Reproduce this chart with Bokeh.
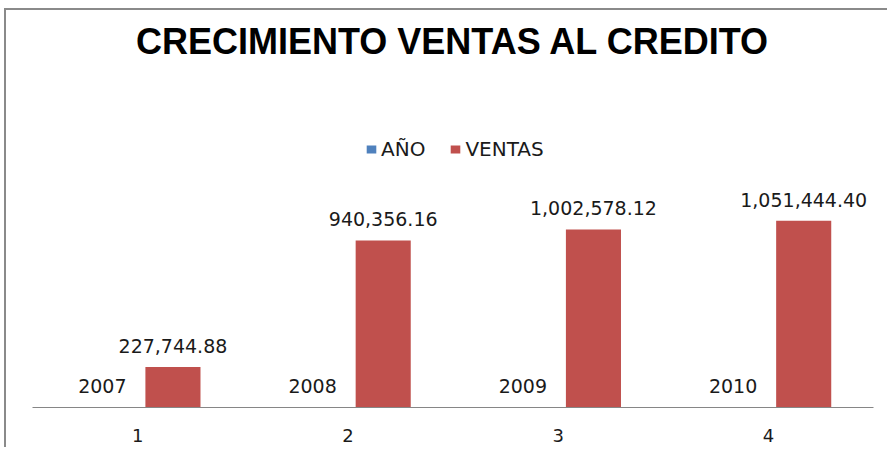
from bokeh.plotting import figure
from bokeh.models import ColumnDataSource, LabelSet, Label, Range1d, Legend
from bokeh.transform import dodge
from bokeh.core.properties import value
from bokeh.embed import file_html
from bokeh.resources import INLINE

# ---- data ----
categories = ["1", "2", "3", "4"]
anio = [2007, 2008, 2009, 2010]
ventas = [227744.88, 940356.16, 1002578.12, 1051444.40]
title_text = "CRECIMIENTO VENTAS AL CREDITO"
series_names = ["AÑO", "VENTAS"]

src = ColumnDataSource(dict(
    cat=categories,
    anio=anio,
    ventas=ventas,
    anio_txt=[str(a) for a in anio],
    ventas_txt=[f"{v:,.2f}" for v in ventas],
))

BLUE = "#4F81BD"
RED = "#C0504D"
TXT = "#1a1a1a"
FONT = "DejaVu Sans"

FRAME_H = 397               # px from canvas top to axis line
BOTTOM = 42
W, H = 26 + 841 + 16, FRAME_H + BOTTOM
Y_PER_PX = 5630.0           # value units per pixel
y_end = FRAME_H * Y_PER_PX

p = figure(x_range=categories, y_range=Range1d(0, y_end),
           width=W, height=H, output_backend="svg", toolbar_location=None,
           min_border_left=26, min_border_right=16, min_border_top=0,
           min_border_bottom=BOTTOM)
p.styles = {"border-top": "2px solid #8a8a8a", "border-left": "2px solid #8a8a8a",
            "margin-left": "4px", "margin-top": "8px"}
p.outline_line_color = None
p.grid.visible = False
p.yaxis.visible = False
p.x_range.range_padding = 0

OFF = 0.168
BW = 0.262
r_a = p.vbar(x=dodge("cat", -OFF, range=p.x_range), top="anio", width=BW,
             source=src, color=BLUE, line_color=None)
r_v = p.vbar(x=dodge("cat", OFF, range=p.x_range), top="ventas", width=BW,
             source=src, color=RED, line_color=None)

p.add_layout(LabelSet(x=dodge("cat", -OFF, range=p.x_range), y="anio", text="anio_txt",
                      source=src, text_align="center", text_baseline="alphabetic",
                      y_offset=14, text_font=value(FONT), text_font_size="19px",
                      text_color=TXT))
p.add_layout(LabelSet(x=dodge("cat", OFF, range=p.x_range), y="ventas", text="ventas_txt",
                      source=src, text_align="center", text_baseline="alphabetic",
                      y_offset=14, text_font=value(FONT), text_font_size="19px",
                      text_color=TXT))

# title drawn inside the chart area
p.add_layout(Label(x=2.0, y=(FRAME_H - 31) * Y_PER_PX, text=title_text,
                   text_align="center", text_baseline="alphabetic",
                   text_font="Liberation Sans", text_font_style="bold",
                   text_font_size="36px", text_color="#000000"))

legend = Legend(items=[(series_names[0], [r_a]), (series_names[1], [r_v])],
                location=(333, 246), orientation="horizontal",
                glyph_width=12, glyph_height=10, label_standoff=4, spacing=24,
                padding=0, margin=0, border_line_color=None,
                background_fill_alpha=0,
                label_text_font=FONT, label_text_font_size="20px",
                label_text_color=TXT)
p.add_layout(legend)

ax = p.xaxis[0]
ax.axis_line_color = "#868686"
ax.axis_line_width = 1
ax.major_tick_line_color = None
ax.minor_tick_line_color = None
ax.major_label_standoff = 15
ax.major_label_text_font = FONT
ax.major_label_text_font_size = "18px"
ax.major_label_text_color = TXT

open("out.html", "w").write(file_html(p, INLINE))
